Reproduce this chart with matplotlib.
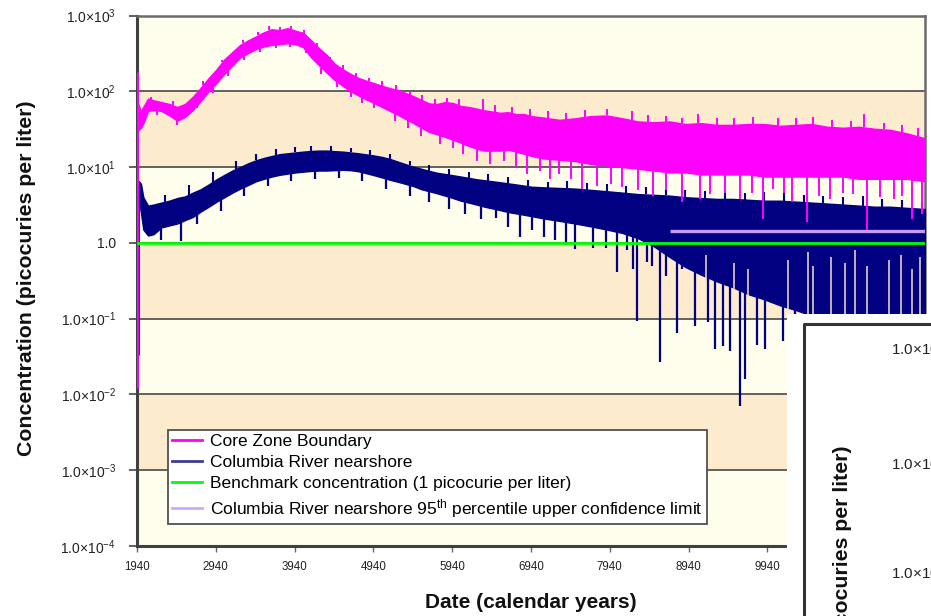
import numpy as np
import matplotlib
matplotlib.use("Agg")
import matplotlib.pyplot as plt
from matplotlib.lines import Line2D

plt.rcParams['font.family'] = ['Liberation Sans', 'DejaVu Sans']
plt.rcParams['mathtext.default'] = 'regular'

# ---------------- data ----------------
# Core Zone Boundary: noisy band, upper / lower extent (pCi/L)
mag_years = [1950, 1990, 2030, 2080, 2150, 2250, 2350, 2450, 2550, 2650, 2750, 2850, 2950,
             3050, 3150, 3250, 3350, 3450, 3550, 3650, 3750, 3850, 3950, 4050, 4150, 4250,
             4350, 4450, 4550, 4650, 4750, 4850, 4950, 5050, 5150, 5250, 5350, 5450, 5550,
             5650, 5750, 5850, 5950, 6050, 6150, 6250, 6350, 6450, 6550, 6650, 6750, 6850,
             6950, 7100, 7300, 7500, 7700, 7900, 8100, 8300, 8500, 8700, 8900, 9100, 9300,
             9500, 9700, 9900, 10100, 10300, 10500, 10700, 10900, 11100, 11300, 11500,
             11700, 11940]
mag_hi = [70, 55, 65, 80, 76, 72, 68, 62, 68, 85, 112, 150, 195, 265, 330, 410, 470, 530,
          600, 660, 640, 680, 630, 590, 470, 370, 300, 230, 195, 170, 150, 138, 128, 118,
          110, 104, 95, 86, 77, 69, 68, 72, 70, 64, 62, 59, 56, 54, 52, 53, 50, 50, 47, 45,
          42, 44, 47, 48, 44, 40, 39, 40, 37, 38, 36, 36, 37, 37, 35, 36, 37, 34, 33, 34,
          32, 31, 28, 24]
mag_lo = [30, 33, 40, 55, 57, 55, 48, 41, 46, 57, 75, 100, 130, 170, 220, 280, 320, 360,
          390, 410, 420, 430, 420, 380, 280, 220, 175, 140, 118, 100, 88, 78, 70, 62, 55,
          49, 43, 38, 33, 29, 27, 25, 23, 21, 19, 17.5, 16.5, 16.5, 16.5, 17, 16, 15, 14,
          13, 12.5, 12, 11, 10.5, 10, 9.5, 9, 8.5, 8.5, 8, 8, 8, 8, 7.5, 7.5, 7.5, 7.5, 7.5,
          7.5, 7, 7, 7, 7, 6.5]
mag_start = (1945, 0.012, 180)
# excursions above the upper edge (year, value)
mag_up_years = [2120, 2400, 2780, 3020, 3280, 3480, 3620, 3760, 3900, 4060, 4220, 4390,
                4560, 4720, 4880, 5050, 5230, 5400, 5560, 5720, 5880, 6020, 6330, 6480, 6700,
                6930, 7150, 7380, 7620, 7900, 8220, 8420, 8650, 8860, 9060, 9300, 9520, 9760,
                10070, 10300, 10520, 10760, 11000, 11160, 11420, 11650, 11850]
mag_up_vals = [85, 74, 135, 260, 470, 600, 720, 700, 720, 640, 430, 280, 220, 175, 150, 135,
               120, 100, 90, 80, 82, 80, 78, 65, 62, 58, 55, 52, 56, 58, 55, 48, 47, 45, 50,
               44, 45, 46, 45, 44, 46, 42, 40, 50, 38, 36, 33]
# excursions below the lower edge (year, value)
mag_dn_years = [2200, 2450, 2700, 2900, 3100, 3300, 3500, 3700, 3880, 4080, 4280, 4480,
                4650, 4800, 4950, 5215, 5380, 5550, 5785, 5950, 6080, 6250, 6420, 6600, 6750,
                6890, 7050, 7180, 7300, 7450, 7590, 7780, 7950, 8100, 8300, 8490, 8650, 8860,
                9085, 9210, 9400, 9590, 9750, 9885, 10010, 10150, 10250, 10440, 10600, 10735,
                10900, 11030, 11205, 11370, 11550, 11650, 11775, 11900]
mag_dn_vals = [48, 36, 60, 95, 160, 260, 330, 370, 380, 320, 170, 115, 85, 70, 60, 40, 33,
               26, 20, 18, 15, 12, 11, 12, 10, 8, 9, 7, 8, 7, 5.1, 5.6, 6, 5.5, 5, 4.2, 5,
               3.5, 3.8, 4.4, 4.5, 3.8, 4.6, 2.07, 5.1, 4.5, 3.5, 1.9, 4.2, 3.8, 4.5, 4.4,
               1.5, 4.0, 3.8, 4.2, 2.07, 2.4]

# Columbia River nearshore: noisy band, upper / lower extent (pCi/L)
riv_years = [1965, 1990, 2020, 2080, 2150, 2250, 2350, 2450, 2550, 2650, 2750, 2850, 2950,
             3050, 3150, 3250, 3350, 3450, 3550, 3650, 3750, 3850, 3950, 4050, 4150, 4250,
             4350, 4450, 4550, 4650, 4750, 4850, 4950, 5050, 5150, 5250, 5350, 5450, 5550,
             5650, 5750, 5850, 5950, 6050, 6150, 6250, 6350, 6450, 6550, 6650, 6750, 6850,
             6950, 7100, 7300, 7500, 7700, 7900, 8100, 8300, 8500, 8700, 8900, 9100, 9300,
             9500, 9700, 9900, 10100, 10300, 10500, 10700, 10900, 11100, 11300, 11500,
             11700, 11940]
riv_hi = [6.5, 6.0, 4.0, 3.1, 3.2, 3.4, 3.6, 3.9, 4.1, 4.6, 5.1, 5.9, 6.9, 7.9, 9.0, 10.0,
          11.2, 12.3, 13.2, 14.0, 14.8, 15.2, 15.6, 16.0, 16.3, 16.5, 16.5, 16.2, 16.0, 15.6,
          15.2, 14.7, 14.2, 13.6, 12.8, 11.8, 10.9, 10.1, 9.5, 8.9, 8.4, 8.1, 7.8, 7.5, 7.2,
          6.9, 6.7, 6.5, 6.3, 6.1, 5.9, 5.7, 5.5, 5.4, 5.3, 5.2, 5.0, 4.8, 4.6, 4.4, 4.3,
          4.2, 4.0, 3.9, 3.8, 3.8, 3.7, 3.6, 3.6, 3.5, 3.4, 3.3, 3.2, 3.1, 3.0, 3.0, 2.9, 2.8]
riv_lo = [3.5, 2.5, 1.5, 1.25, 1.3, 1.6, 1.7, 1.8, 2.0, 2.2, 2.6, 3.0, 3.5, 4.0, 4.6, 5.2,
          5.8, 6.5, 7.0, 7.5, 7.9, 8.2, 8.5, 8.7, 8.9, 9.0, 9.0, 9.1, 9.2, 9.1, 8.8, 8.3,
          7.8, 7.3, 6.8, 6.4, 6.0, 5.6, 5.1, 4.8, 4.5, 4.2, 3.9, 3.6, 3.4, 3.2, 3.0, 2.85,
          2.7, 2.55, 2.45, 2.35, 2.25, 2.1, 1.95, 1.8, 1.65, 1.5, 1.35, 1.15, 0.9, 0.65,
          0.48, 0.38, 0.31, 0.26, 0.21, 0.18, 0.15, 0.13, 0.11, 0.09, 0.08, 0.07, 0.06,
          0.05, 0.045, 0.04]
riv_start = (1955, 0.033, 5.5)
# excursions above the upper edge (year, value)
riv_up_years = [2300, 2600, 2900, 3200, 3450, 3700, 3950, 4150, 4400, 4650, 4900, 5150,
                5400, 5650, 5900, 6150, 6400, 6650, 6900, 7150, 7400, 7650, 7900, 8150,
                8400, 8650, 8900, 9150, 9400, 9650, 9900, 10150, 10400, 10650, 10900, 11150,
                11400, 11650, 11900]
riv_up_vals = [4.3, 5.8, 8.5, 12, 15, 17.5, 18.5, 19, 19, 18, 17, 15, 12, 10.5, 9.5, 8.5,
               8, 7.3, 6.8, 6.4, 6.5, 6.2, 6.0, 5.6, 5.4, 5.2, 5.0, 4.8, 4.9, 4.6, 4.7, 4.5,
               4.3, 4.2, 4.0, 4.1, 3.8, 3.7, 3.5]
# excursions below the lower edge (year, value)
riv_dn_years = [2250, 2500, 2700, 3000, 3300, 3600, 3900, 4200, 4500, 4800, 5100, 5400,
                5650, 5900, 6100, 6300, 6500, 6650, 6800, 6950, 7100, 7250, 7380, 7500,
                7727, 7890, 8031, 8160, 8230, 8285, 8412, 8480, 8577, 8650, 8793, 8860,
                9021, 9190, 9275, 9377, 9465, 9592, 9656, 9808, 9910, 10138, 10290]
riv_dn_vals = [1.1, 1.06, 1.8, 2.6, 4.2, 5.6, 6.5, 7.0, 7.2, 6.5, 5.2, 4.2, 3.5, 2.8, 2.4,
               2.07, 2.1, 1.6, 1.2, 1.5, 1.2, 1.1, 0.95, 0.83, 0.86, 0.85, 0.41, 0.8, 0.45,
               0.094, 0.56, 0.5, 0.027, 0.36, 0.064, 0.45, 0.081, 0.09, 0.04, 0.044, 0.037,
               0.007, 0.016, 0.045, 0.04, 0.05, 0.06]
# places where the dense river trace leaves a gap (year, upper end of gap)
riv_gap_years = [9160, 9520, 9700, 10200, 10450, 10520, 10750, 10920, 11050, 11200, 11480,
                 11640, 11780, 11880]
riv_gap_vals = [0.7, 0.55, 0.45, 0.6, 0.75, 0.5, 0.65, 0.55, 0.8, 0.5, 0.6, 0.7, 0.45, 0.65]

benchmark = 1.0
ucl_years = [8700, 11940]
ucl_value = 1.44

y_ticks = [1e-4, 1e-3, 1e-2, 1e-1, 1, 1e1, 1e2, 1e3]
y_tick_labels = ['1.0×10$^{-4}$', '1.0×10$^{-3}$', '1.0×10$^{-2}$', '1.0×10$^{-1}$', '1.0',
                 '1.0×10$^{1}$', '1.0×10$^{2}$', '1.0×10$^{3}$']
x_ticks = list(range(1940, 11941, 1000))

legend_labels = ['Core Zone Boundary', 'Columbia River nearshore',
                 'Benchmark concentration (1 picocurie per liter)',
                 'Columbia River nearshore 95$^{th}$ percentile upper confidence limit']
overlay_tick_labels = ['1.0×10$^{3}$', '1.0×10$^{2}$', '1.0×10$^{1}$']

# ---------------- drawing ----------------
W, H = 931, 616
fig = plt.figure(figsize=(W / 100, H / 100), dpi=100)
fig.patch.set_facecolor('white')

L, R, T, B = 137, 925, 15.5, 546
ax = fig.add_axes([L / W, 1 - B / H, (R - L) / W, (B - T) / H])
ax.set_yscale('log')
ax.set_xlim(1940, 11940)
ax.set_ylim(1e-4, 1e3)

light, tan = '#FFFDEC', '#FCEBCD'
for i in range(7):
    lo, hi = 10.0 ** (2 - i), 10.0 ** (3 - i)
    ax.axhspan(lo, hi, color=light if i % 2 == 0 else tan, lw=0, zorder=0)
for e in range(-3, 3):
    ax.axhline(10.0 ** e, color='#555555', lw=1.3, zorder=1)

MAG, NAVY = '#FF00FF', '#000080'


def edge(xq, xs, ys):
    return 10 ** np.interp(xq, np.array(xs), np.log10(ys))


# river trace
ax.fill_between(riv_years, riv_lo, riv_hi, color=NAVY, lw=1.0, zorder=3)
ax.vlines(riv_up_years, edge(riv_up_years, riv_years, riv_hi), riv_up_vals,
          color=NAVY, lw=1.5, zorder=3)
ax.vlines(riv_gap_years, edge(riv_gap_years, riv_years, riv_lo) * 0.9, riv_gap_vals,
          color='#F4E2C6', lw=1.1, zorder=3)
ax.vlines(riv_dn_years, riv_dn_vals, edge(riv_dn_years, riv_years, riv_lo),
          color=NAVY, lw=1.6, zorder=3)
ax.vlines([riv_start[0]], riv_start[1], riv_start[2], color=NAVY, lw=2.0, zorder=3)

# core zone trace
ax.fill_between(mag_years, mag_lo, mag_hi, color=MAG, lw=1.0, zorder=4)
ax.vlines(mag_up_years, edge(mag_up_years, mag_years, mag_hi), mag_up_vals,
          color=MAG, lw=1.4, zorder=4)
ax.vlines(mag_dn_years, mag_dn_vals, edge(mag_dn_years, mag_years, mag_lo),
          color=MAG, lw=1.4, zorder=4)
ax.vlines([mag_start[0]], mag_start[1], mag_start[2], color=MAG, lw=2.0, zorder=4)

GREEN, PURPLE = '#00FF00', '#C49CF4'
ax.axhline(benchmark, color=GREEN, lw=2.0, zorder=5)
ax.plot(ucl_years, [ucl_value, ucl_value], color=PURPLE, lw=2.4, zorder=5,
        solid_capstyle='butt')

# axes styling
ax.set_yticks(y_ticks)
ax.set_yticklabels(y_tick_labels)
ax.yaxis.set_minor_locator(matplotlib.ticker.NullLocator())
ax.set_xticks(x_ticks)
ax.set_xticklabels([str(v) for v in x_ticks])
ax.tick_params(axis='y', direction='out', length=6, width=1.2, color='#444444',
               labelsize=10, pad=9, labelcolor='#222222')
ax.tick_params(axis='x', direction='out', length=4, width=1.0, color='#666666',
               labelsize=8.3, pad=7, labelcolor='#222222')
for s in ['left', 'bottom']:
    ax.spines[s].set_color('#404040')
    ax.spines[s].set_linewidth(2.2)
for s in ['top', 'right']:
    ax.spines[s].set_color('#6a6a6a')
    ax.spines[s].set_linewidth(1.8)

handles = [Line2D([], [], color=MAG, lw=2), Line2D([], [], color='#3c3c96', lw=2),
           Line2D([], [], color=GREEN, lw=2), Line2D([], [], color='#CFA8F8', lw=2)]
leg = ax.legend(handles, legend_labels, loc='upper left',
                bbox_to_anchor=(168 / W, 1 - 430 / H), bbox_transform=fig.transFigure,
                borderaxespad=0, fontsize=12.5, handlelength=1.7, handletextpad=0.45,
                labelspacing=0.33, borderpad=0.25, fancybox=False, framealpha=1,
                edgecolor='#505050', facecolor='white')
leg.get_frame().set_linewidth(1.3)
leg.set_zorder(8)

fig.text(531 / W, 1 - 603 / H, 'Date (calendar years)', ha='center', va='center',
         fontsize=15, fontweight='bold', color='#111111')
fig.text(27 / W, 1 - 278 / H, 'Concentration (picocuries per liter)', ha='center',
         va='center', rotation=90, fontsize=15.3, fontweight='bold', color='#111111')

# ---------- overlapping second panel (bottom-right corner) ----------
ox = fig.add_axes([787 / W, 0, (W - 787) / W, 1 - 314 / H], zorder=20)
ox.set_xlim(787, W)
ox.set_ylim(H, 314)
ox.set_facecolor('white')
ox.set_xticks([])
ox.set_yticks([])
for s in ox.spines.values():
    s.set_visible(False)
ox.plot([804, 804, W + 5], [H + 5, 324, 324], color='#333333', lw=2.2, clip_on=False)
for lab, yy in zip(overlay_tick_labels, [349, 464, 573]):
    ox.text(891, yy, lab, ha='left', va='center', fontsize=11, color='#222222')
ox.text(843, 446, 'Concentration (picocuries per liter)', ha='center', va='top',
        rotation=90, fontsize=15.3, fontweight='bold', color='#111111', clip_on=False)

fig.savefig('out.png', dpi=100, facecolor='white')
